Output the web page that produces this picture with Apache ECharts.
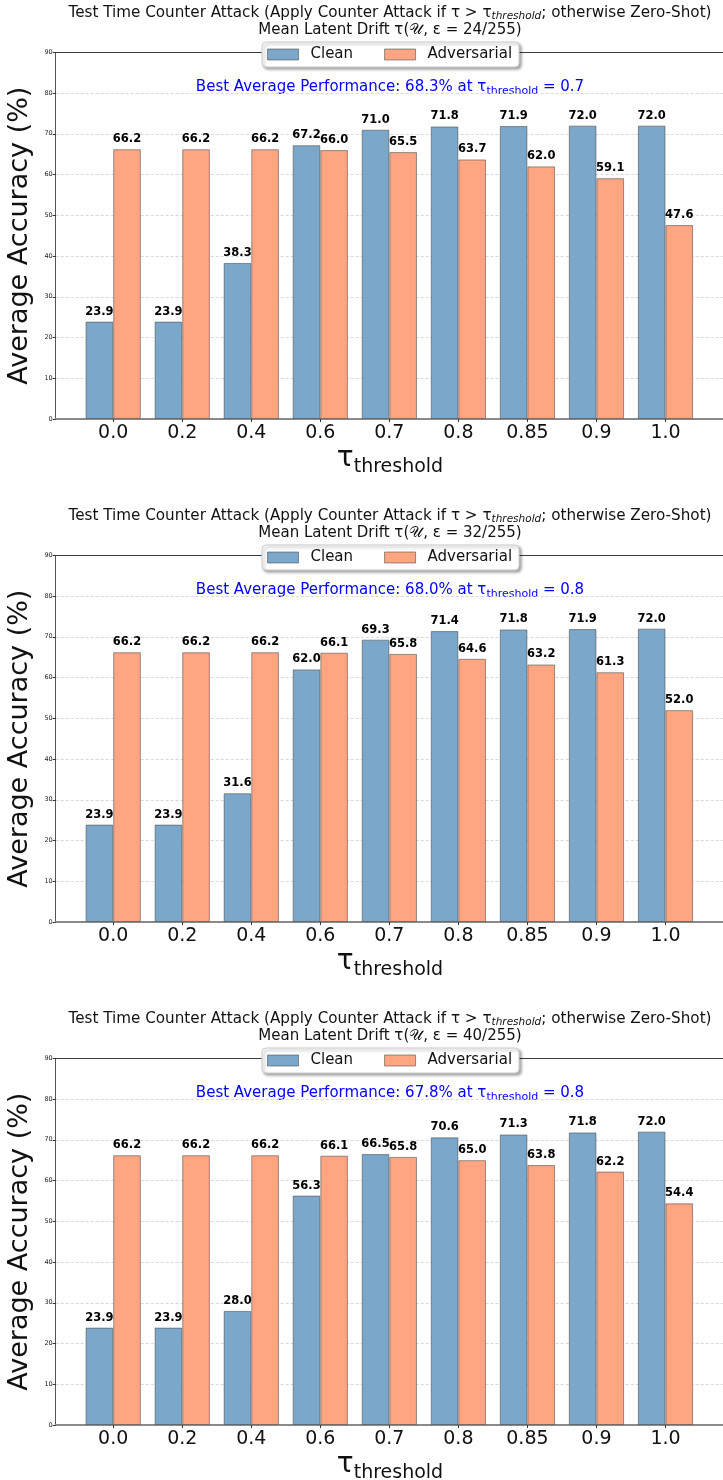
<!DOCTYPE html>
<html>
<head>
<meta charset="utf-8">
<script src="https://cdn.jsdelivr.net/npm/echarts@6/dist/echarts.min.js"></script>
<style>
html,body{margin:0;padding:0;background:#fff;}
#chart{width:723px;height:1480px;}
</style>
</head>
<body>
<div id="chart"></div>
<script>
// ---- data ----
const categories = ['0.0', '0.2', '0.4', '0.6', '0.7', '0.8', '0.85', '0.9', '1.0'];
const clean24 = [23.9, 23.9, 38.3, 67.2, 71.0, 71.8, 71.9, 72.0, 72.0];
const adv24   = [66.2, 66.2, 66.2, 66.0, 65.5, 63.7, 62.0, 59.1, 47.6];
const clean32 = [23.9, 23.9, 31.6, 62.0, 69.3, 71.4, 71.8, 71.9, 72.0];
const adv32   = [66.2, 66.2, 66.2, 66.1, 65.8, 64.6, 63.2, 61.3, 52.0];
const clean40 = [23.9, 23.9, 28.0, 56.3, 66.5, 70.6, 71.3, 71.8, 72.0];
const adv40   = [66.2, 66.2, 66.2, 66.1, 65.8, 65.0, 63.8, 62.2, 54.4];
const epsLabels = ['24/255', '32/255', '40/255'];
const bestAvg = ['68.3', '68.0', '67.8'];
const bestTau = ['0.7', '0.8', '0.8'];

const panels = [
  {clean: clean24, adv: adv24},
  {clean: clean32, adv: adv32},
  {clean: clean40, adv: adv40}
];

const FONT = 'DejaVu Sans';
const BLUE = '#7BA7CA';
const ORANGE = '#FFA582';
const EDGE = 'rgba(70,70,70,0.55)';
const PANEL_H = 503;
const GRID_LEFT = 55.7, GRID_TOP = 52.3, GRID_H = 366.7, GRID_W = 668.6;
const CX = GRID_LEFT + GRID_W / 2;

const grids = [], xAxes = [], yAxes = [], series = [], legends = [], graphics = [];
const idx = categories.map((c, i) => i);

panels.forEach((p, k) => {
  const off = k * PANEL_H;
  grids.push({
    left: GRID_LEFT, top: GRID_TOP + off, width: GRID_W, height: GRID_H,
    show: false, containLabel: false
  });
  // bottom axis (categories)
  xAxes.push({
    gridIndex: k, type: 'value', min: -0.833, max: 8.833, position: 'bottom',
    axisLine: {show: true, onZero: false, lineStyle: {color: '#8a8a8a', width: 2}},
    axisTick: {show: true, customValues: idx, length: 3, lineStyle: {color: '#333'}},
    axisLabel: {show: true, customValues: idx, formatter: v => categories[Math.round(v)],
      fontFamily: FONT, fontSize: 19, color: '#111', margin: 5},
    splitLine: {show: false}
  });
  // top spine
  xAxes.push({
    gridIndex: k, type: 'value', min: -0.833, max: 8.833, position: 'top',
    axisLine: {show: true, onZero: false, lineStyle: {color: '#3a3a3a', width: 1}},
    axisTick: {show: false}, axisLabel: {show: false}, splitLine: {show: false}
  });
  yAxes.push({
    gridIndex: k, type: 'value', min: 0, max: 90, interval: 10,
    axisLine: {show: true, onZero: false, lineStyle: {color: '#555', width: 1}},
    axisTick: {show: true, length: 3, lineStyle: {color: '#333'}},
    axisLabel: {fontFamily: FONT, fontSize: 6.5, color: '#222', margin: 3},
    splitLine: {show: true, lineStyle: {color: '#cfcfcf', type: [3, 2], width: 0.8}}
  });
  const mk = (name, arr, color) => ({
    name, type: 'bar', xAxisIndex: 2 * k, yAxisIndex: k,
    data: arr.map((v, i) => [i, v]),
    barWidth: '40%', barGap: '0%',
    itemStyle: {color, borderColor: EDGE, borderWidth: 1},
    label: {show: true, position: 'top', distance: 4, formatter: d => d.value[1].toFixed(1),
      fontFamily: FONT, fontWeight: 'bold', fontSize: 11.5, color: '#000'},
    emphasis: {disabled: true}
  });
  series.push(mk('Clean', p.clean, BLUE));
  series.push(mk('Adversarial', p.adv, ORANGE));

  legends.push({
    data: ['Clean', 'Adversarial'], left: 262, top: 42 + off, orient: 'horizontal',
    icon: 'rect', itemWidth: 31, itemHeight: 11, itemGap: 31,
    padding: [5, 7, 5, 5],
    backgroundColor: '#fff', borderColor: '#cccccc', borderWidth: 1, borderRadius: 4,
    shadowColor: 'rgba(0,0,0,0.35)', shadowBlur: 3, shadowOffsetX: 2, shadowOffsetY: 2,
    textStyle: {fontFamily: FONT, fontSize: 15, color: '#111', padding: [0, 0, 0, 7]},
    itemStyle: {borderColor: EDGE, borderWidth: 1},
    selectedMode: false
  });

  // titles
  graphics.push({
    type: 'text', x: CX, y: 13 + off, silent: true,
    style: {
      text: 'Test Time Counter Attack (Apply Counter Attack if τ > τ{it|threshold}; otherwise Zero-Shot)',
      align: 'center', verticalAlign: 'middle', fontFamily: FONT, fontSize: 15.2, fill: '#111',
      rich: {it: {fontFamily: FONT, fontSize: 10.5, fontStyle: 'italic', fill: '#111', padding: [6, 0, 0, 0]}}
    }
  });
  graphics.push({
    type: 'text', x: CX, y: 30.5 + off, silent: true,
    style: {
      text: 'Mean Latent Drift τ(𝒰, ε = ' + epsLabels[k] + ')',
      align: 'center', verticalAlign: 'middle', fontFamily: FONT, fontSize: 15, fill: '#111'
    }
  });
  // best performance annotation
  graphics.push({
    type: 'text', x: CX, y: 87.5 + off, silent: true,
    style: {
      text: 'Best Average Performance: ' + bestAvg[k] + '% at τ{sub|threshold} = ' + bestTau[k],
      align: 'center', verticalAlign: 'middle', fontFamily: FONT, fontSize: 15, fill: '#0000ff',
      rich: {sub: {fontFamily: FONT, fontSize: 11, fill: '#0000ff', padding: [8, 0, 0, 0]}}
    }
  });
  // y axis label
  graphics.push({
    type: 'text', x: 20, y: GRID_TOP + GRID_H / 2 + off, rotation: Math.PI / 2, silent: true,
    style: {text: 'Average Accuracy (%)', align: 'center', verticalAlign: 'middle',
      fontFamily: FONT, fontSize: 27, fill: '#111'}
  });
  // x axis label
  graphics.push({
    type: 'text', x: CX, y: 459 + off, silent: true,
    style: {
      text: '{tau|τ}{sub|threshold}', align: 'center', verticalAlign: 'middle',
      rich: {
        tau: {fontFamily: FONT, fontSize: 28, fill: '#111'},
        sub: {fontFamily: FONT, fontSize: 19, fill: '#111', padding: [16, 0, 0, 0]}
      }
    }
  });
});

const chart = echarts.init(document.getElementById('chart'), null, {renderer: 'canvas'});
chart.setOption({
  animation: false,
  backgroundColor: '#ffffff',
  grid: grids, xAxis: xAxes, yAxis: yAxes, series, legend: legends,
  graphic: graphics
});
</script>
</body>
</html>
